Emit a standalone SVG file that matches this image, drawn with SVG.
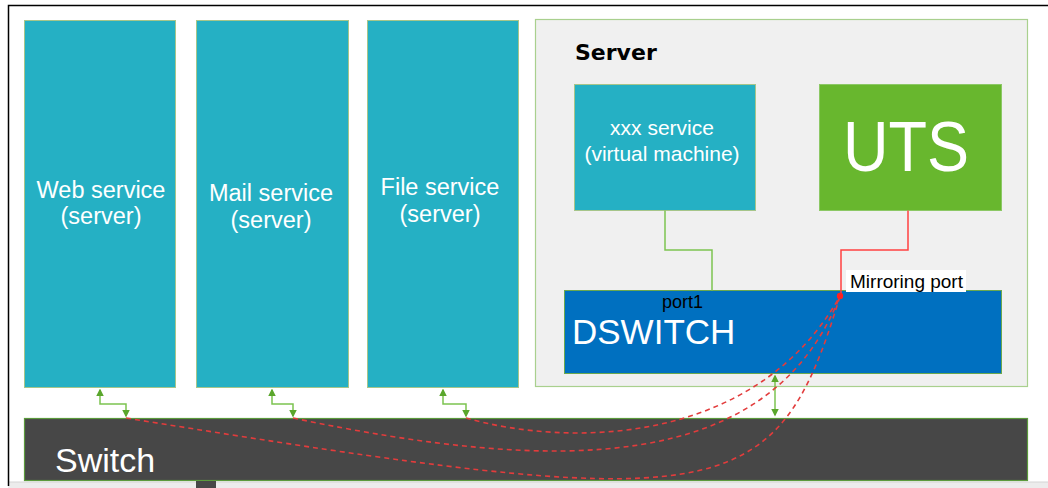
<svg xmlns="http://www.w3.org/2000/svg" width="1048" height="488" viewBox="0 0 1048 488">
<defs>
<style>
.svc{fill:#25b0c4;stroke:#a6c58a;stroke-width:1}
.wt{fill:#ffffff;font-family:"Liberation Sans",Arial,sans-serif;text-anchor:middle}
.bt{fill:#000000;font-family:"Liberation Sans",Arial,sans-serif}
.gl{fill:none;stroke:#7cc350;stroke-width:1.5}
.rd{fill:none;stroke:#e23c3c;stroke-width:1.6;stroke-dasharray:5 4}
</style>
<marker id="ag" viewBox="0 0 10 10" refX="8" refY="5" markerWidth="5" markerHeight="5" orient="auto-start-reverse">
<path d="M0,0 L10,5 L0,10 z" fill="#5aa62c"/>
</marker>
</defs>
<rect x="0" y="0" width="1048" height="488" fill="#ffffff"/>
<rect x="8" y="482" width="1040" height="6" fill="#ececec"/>
<line x1="8" y1="482" x2="1048" y2="482" stroke="#d4d4d4" stroke-width="1"/>
<path d="M1048,5.5 H8.5 V486" fill="none" stroke="#000000" stroke-width="1.5"/>

<g id="web">
<rect class="svc" x="24.5" y="20.5" width="151" height="367"/>
<text class="wt" x="101" y="198" font-size="23.5">Web service</text>
<text class="wt" x="101" y="224" font-size="23.5">(server)</text>
</g>
<g id="mail">
<rect class="svc" x="196.5" y="20.5" width="152" height="367"/>
<text class="wt" x="271" y="201" font-size="23.5">Mail service</text>
<text class="wt" x="271" y="228" font-size="23.5">(server)</text>
</g>
<g id="file">
<rect class="svc" x="367.5" y="20.5" width="151" height="367"/>
<text class="wt" x="440" y="195" font-size="23.5">File service</text>
<text class="wt" x="440" y="222" font-size="23.5">(server)</text>
</g>

<g id="server">
<rect x="535.5" y="19.5" width="492" height="367" fill="#f0f0f0" stroke="#a9d08e" stroke-width="1.2"/>
<text x="575" y="60" font-family="DejaVu Sans,sans-serif" font-weight="bold" font-size="22" fill="#000000">Server</text>
</g>

<g id="xxx">
<rect class="svc" x="574.5" y="84.5" width="181" height="126"/>
<text class="wt" x="662" y="135" font-size="21">xxx service</text>
<text class="wt" x="662" y="161" font-size="21">(virtual machine)</text>
</g>

<g id="uts">
<rect x="819.5" y="84.5" width="182" height="126" fill="#68b72e" stroke="#8cc865" stroke-width="1"/>
<text class="wt" x="906" y="171" font-size="70" textLength="126" lengthAdjust="spacingAndGlyphs">UTS</text>
</g>

<g id="dswitch">
<rect x="564.5" y="290.5" width="437" height="83" fill="#0070c0" stroke="#6aa84f" stroke-width="1"/>
<text x="572" y="344" font-family="Liberation Sans,Arial,sans-serif" font-size="35" fill="#ffffff">DSWITCH</text>
<text class="bt" x="662" y="308" font-size="18">port1</text>
</g>

<g id="switch">
<rect x="24.5" y="418.5" width="1003" height="62" fill="#474747" stroke="#5b9a3c" stroke-width="1.2"/>
<text x="55" y="472" font-family="Liberation Sans,Arial,sans-serif" font-size="34" fill="#ffffff">Switch</text>
</g>
<rect x="196" y="481" width="20" height="7" fill="#474747"/>

<g id="connectors">
<path class="gl" d="M665,210.5 V250 H712 V290.5"/>
<path d="M908,210.5 V250 H841 V296" fill="none" stroke="#ff4040" stroke-width="1.5"/>
<path class="gl" d="M100,390 V404 H126 V416" marker-start="url(#ag)" marker-end="url(#ag)"/>
<path class="gl" d="M272,390 V404 H293 V416" marker-start="url(#ag)" marker-end="url(#ag)"/>
<path class="gl" d="M443,390 V404 H466 V416" marker-start="url(#ag)" marker-end="url(#ag)"/>
<path class="gl" d="M775,376 V415" marker-start="url(#ag)" marker-end="url(#ag)"/>
<path class="rd" d="M126,418 C720,514 775,512 840,296"/>
<path class="rd" d="M293,418 C559,474 770,474 840,296"/>
<path class="rd" d="M466,418 C567,447 755,447 840,296"/>
<circle cx="840" cy="296" r="3.2" fill="#ff2020"/>
</g>

<g id="mirror-label">
<rect x="846" y="270" width="120" height="22" fill="#ffffff"/>
<text class="bt" x="850" y="288" font-size="19">Mirroring port</text>
</g>
</svg>
